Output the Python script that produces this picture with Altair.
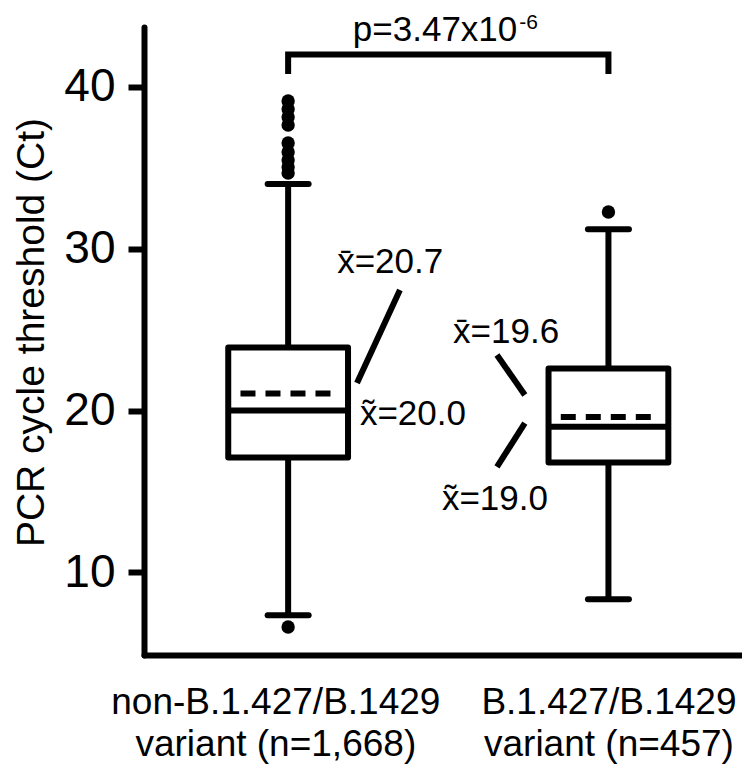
import altair as alt
import pandas as pd

# ---------------- data ----------------
groups = [1, 2]
label_line1 = ["non-B.1.427/B.1429", "B.1.427/B.1429"]
label_line2 = ["variant (n=1,668)", "variant (n=457)"]
q1 = [17.1, 16.8]
median = [20.0, 19.0]
q3 = [23.9, 22.6]
mean = [21.05, 19.6]
whisker_low = [7.35, 8.35]
whisker_high = [34.0, 31.2]
outliers_group1 = [39.13, 38.63, 38.14, 37.65, 36.53, 35.98, 35.48, 35.05, 34.68, 6.63]
outliers_group2 = [32.27]
mean_labels = ["x\u0304=20.7", "x\u0304=19.6"]
median_labels = ["x\u0303=20.0", "x\u0303=19.0"]
p_main = "p=3.47x10"
p_exp = "-6"
bracket_groups = [1, 2]
bracket_level = 42.0
bracket_drop = 40.8

FONT = "Liberation Sans"
SW = 6
BOX_HALF = 0.187
CAP_HALF = 0.064

xs = alt.Scale(domain=[0.55, 2.417], nice=False, zero=False)
ys = alt.Scale(domain=[4.9, 43.7], nice=False, zero=False)

label_expr = (
    "datum.value < 1.5 ? ['" + label_line1[0] + "', '" + label_line2[0] + "'] : ['"
    + label_line1[1] + "', '" + label_line2[1] + "']"
)

x_axis = alt.Axis(
    values=[0.96, 2.0], labelExpr=label_expr, title=None, ticks=False, tickSize=0,
    labelPadding=29, labelFontSize=37, labelLineHeight=42, labelBaseline="top",
    labelFont=FONT, labelColor="black", labelOverlap=False, labelFlush=False, labelLimit=0,
    domainWidth=SW, domainColor="black", domainCap="round", grid=False,
)
y_axis = alt.Axis(
    values=[10, 20, 30, 40], title="PCR cycle threshold (Ct)", tickSize=16, tickWidth=SW,
    tickColor="black", labelPadding=13, labelFontSize=46, labelFont=FONT, labelColor="black",
    titleFont=FONT, titleFontSize=39, titleFontWeight="normal", titleColor="black",
    titleX=-101, titleY=305, titleBaseline="alphabetic", titleAlign="center", titleLimit=0,
    domainWidth=SW, domainColor="black", domainCap="round", grid=False,
)


def X(field):
    return alt.X(field, type="quantitative", scale=xs, axis=x_axis)


def Y(field):
    return alt.Y(field, type="quantitative", scale=ys, axis=y_axis)


box_df = pd.DataFrame({
    "group": groups, "q1": q1, "median": median, "q3": q3, "mean": mean,
    "wlo": whisker_low, "whi": whisker_high,
})
box_base = alt.Chart(box_df).transform_calculate(
    left=f"datum.group - {BOX_HALF}",
    right=f"datum.group + {BOX_HALF}",
    capl=f"datum.group - {CAP_HALF}",
    capr=f"datum.group + {CAP_HALF}",
    dl="datum.group - 0.18",
    dr="datum.group + 0.15",
)

whisk_lo = box_base.mark_rule(color="black", strokeWidth=SW).encode(x=X("group"), y=Y("wlo"), y2="q1")
whisk_hi = box_base.mark_rule(color="black", strokeWidth=SW).encode(x=X("group"), y=Y("q3"), y2="whi")
cap_lo = box_base.mark_rule(color="black", strokeWidth=SW, strokeCap="round").encode(x=X("capl"), x2="capr", y=Y("wlo"))
cap_hi = box_base.mark_rule(color="black", strokeWidth=SW, strokeCap="round").encode(x=X("capl"), x2="capr", y=Y("whi"))
box = box_base.mark_rect(fill="white", stroke="black", strokeWidth=SW, strokeJoin="round").encode(
    x=X("left"), x2="right", y=Y("q1"), y2="q3")
med = box_base.mark_rule(color="black", strokeWidth=SW).encode(x=X("left"), x2="right", y=Y("median"))
mean_line = box_base.mark_rule(color="black", strokeWidth=SW, strokeDash=[15, 10], strokeDashOffset=15).encode(
    x=X("dl"), x2="dr", y=Y("mean"))

out_df = pd.DataFrame({
    "group": [1] * len(outliers_group1) + [2] * len(outliers_group2),
    "value": outliers_group1 + outliers_group2,
})
outliers = alt.Chart(out_df).mark_circle(color="black", opacity=1, size=180).encode(x=X("group"), y=Y("value"))

bracket_df = pd.DataFrame({
    "x": [bracket_groups[0], bracket_groups[0], bracket_groups[1], bracket_groups[1]],
    "y": [bracket_drop, bracket_level, bracket_level, bracket_drop],
    "o": [0, 1, 2, 3],
})
bracket = alt.Chart(bracket_df).mark_line(color="black", strokeWidth=SW, strokeJoin="miter").encode(
    x=X("x"), y=Y("y"), order="o:Q")

p_df = pd.DataFrame({"x": [sum(bracket_groups) / 2], "y": [bracket_level], "t": [p_main], "e": [p_exp]})
p_text = alt.Chart(p_df).mark_text(align="right", baseline="alphabetic", fontSize=35, font=FONT,
                                   color="black", dx=69, dy=-14).encode(x=X("x"), y=Y("y"), text="t:N")
p_sup = alt.Chart(p_df).mark_text(align="left", baseline="alphabetic", fontSize=21, font=FONT,
                                  color="black", dx=71, dy=-26).encode(x=X("x"), y=Y("y"), text="e:N")

# annotation placement (data units)
ann_df = pd.DataFrame({
    "x": [1.153, 1.224, 1.515, 1.480],
    "y": [28.50, 19.11, 24.18, 13.86],
    "t": [mean_labels[0], median_labels[0], mean_labels[1], median_labels[1]],
})
ann = alt.Chart(ann_df).mark_text(align="left", baseline="alphabetic", fontSize=35, font=FONT,
                                  color="black").encode(x=X("x"), y=Y("y"), text="t:N")

lead_df = pd.DataFrame({
    "x": [1.349, 1.652, 1.739],
    "y": [27.45, 23.44, 19.23],
    "x2": [1.215, 1.739, 1.652],
    "y2": [21.70, 20.96, 16.52],
})
leaders = alt.Chart(lead_df).mark_rule(color="black", strokeWidth=SW).encode(
    x=X("x"), y=Y("y"), x2="x2", y2="y2")

chart = alt.layer(
    whisk_lo, whisk_hi, cap_lo, cap_hi, box, med, mean_line, outliers,
    bracket, p_text, p_sup, ann, leaders,
).properties(
    width=598, height=628,
    autosize=alt.AutoSizeParams(type="none"),
    padding={"left": 136, "top": 19, "right": 0, "bottom": 110},
    background="white",
).configure_view(stroke=None)

chart.save("out.html", embed_options={"renderer": "svg", "actions": False})
